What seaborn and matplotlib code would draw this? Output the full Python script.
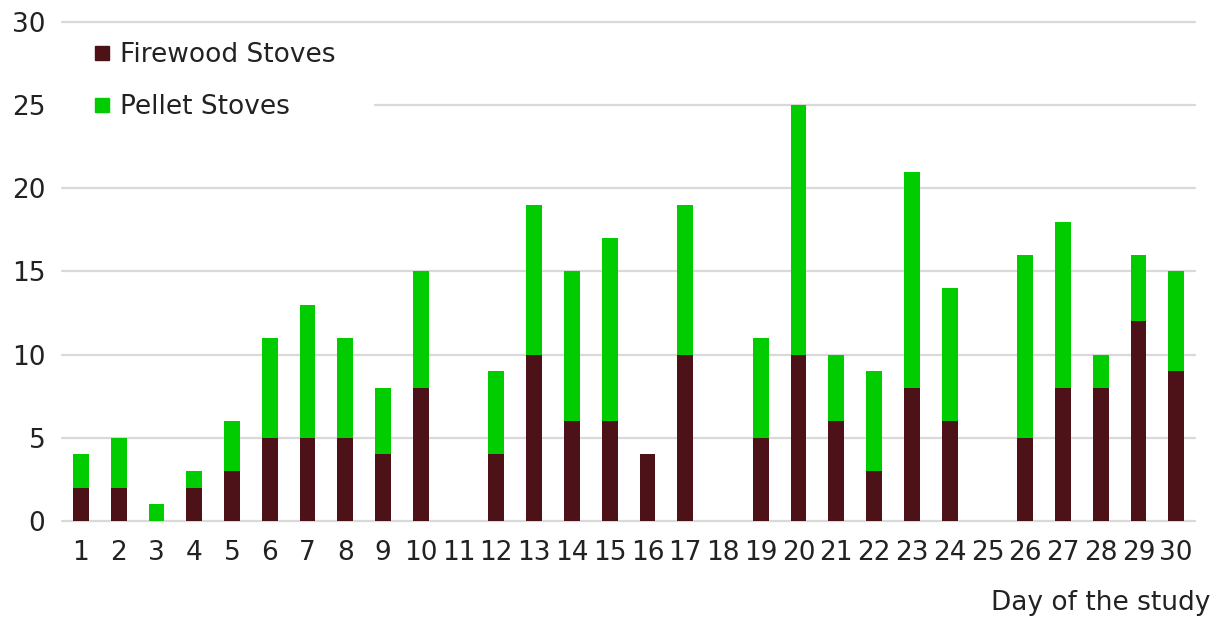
import matplotlib
matplotlib.use("Agg")
import matplotlib.pyplot as plt
from matplotlib.lines import Line2D
import seaborn as sns
import pandas as pd

days = list(range(1, 31))
firewood = [2, 2, 0, 2, 3, 5, 5, 5, 4, 8, 0, 4, 10, 6, 6, 4, 10, 0, 5, 10,
            6, 3, 8, 6, 0, 5, 8, 8, 12, 9]
pellet = [2, 3, 1, 1, 3, 6, 8, 6, 4, 7, 0, 5, 9, 9, 11, 0, 9, 0, 6, 15,
          4, 6, 13, 8, 0, 11, 10, 2, 4, 6]
yticks = [0, 5, 10, 15, 20, 25, 30]

FIRE_COLOR = "#4d1217"
PELLET_COLOR = "#00cc00"
GRID_COLOR = "#d9d9d9"
FS = 19

df = pd.DataFrame({"day": days, "firewood": firewood, "pellet": pellet})
df["total"] = df["firewood"] + df["pellet"]

sns.set_theme(style="white")
plt.rcParams["font.family"] = ["DejaVu Sans"]

fig = plt.figure(figsize=(12.23, 6.2), dpi=100)
ax = fig.add_axes([0.0507, 0.1597, 0.9265, 0.8048])

sns.barplot(data=df, x="day", y="total", color=PELLET_COLOR, saturation=1,
            width=0.42, linewidth=0, ax=ax, zorder=3)
sns.barplot(data=df, x="day", y="firewood", color=FIRE_COLOR, saturation=1,
            width=0.42, linewidth=0, ax=ax, zorder=3)

ax.set_xlim(-0.5, 29.5)
ax.set_ylim(0, 30)
ax.set_yticks(yticks)
# gridlines drawn by hand so the top one stays visible above the legend box
for y in yticks:
    ax.axhline(y, color=GRID_COLOR, linewidth=1.6, clip_on=False,
               zorder=6 if y == yticks[-1] else 1)
for s in ax.spines.values():
    s.set_visible(False)
ax.tick_params(axis="both", length=0, labelsize=FS, colors="#222222")
ax.tick_params(axis="y", pad=12)
ax.tick_params(axis="x", pad=14)
ax.set_xlabel("")
ax.set_ylabel("")

fig.text(1210 / 1223, 1 - 603 / 620, "Day of the study", ha="right",
         va="center", fontsize=FS, color="#222222")

handles = [
    Line2D([], [], marker="s", linestyle="none", markersize=9.5,
           markerfacecolor=FIRE_COLOR, markeredgecolor=FIRE_COLOR),
    Line2D([], [], marker="s", linestyle="none", markersize=9.5,
           markerfacecolor=PELLET_COLOR, markeredgecolor=PELLET_COLOR),
]
leg = ax.legend(handles, ["Firewood Stoves", "Pellet Stoves"],
                loc="upper left", bbox_to_anchor=(-0.004, 1.034),
                borderaxespad=0, fontsize=FS, frameon=True, fancybox=False,
                framealpha=1, facecolor="white", edgecolor="white",
                handlelength=0.6, handletextpad=0.38, labelspacing=1.0,
                borderpad=1.4)
leg.set_zorder(5)
for t in leg.get_texts():
    t.set_color("#222222")

fig.savefig("out.png", dpi=100)
